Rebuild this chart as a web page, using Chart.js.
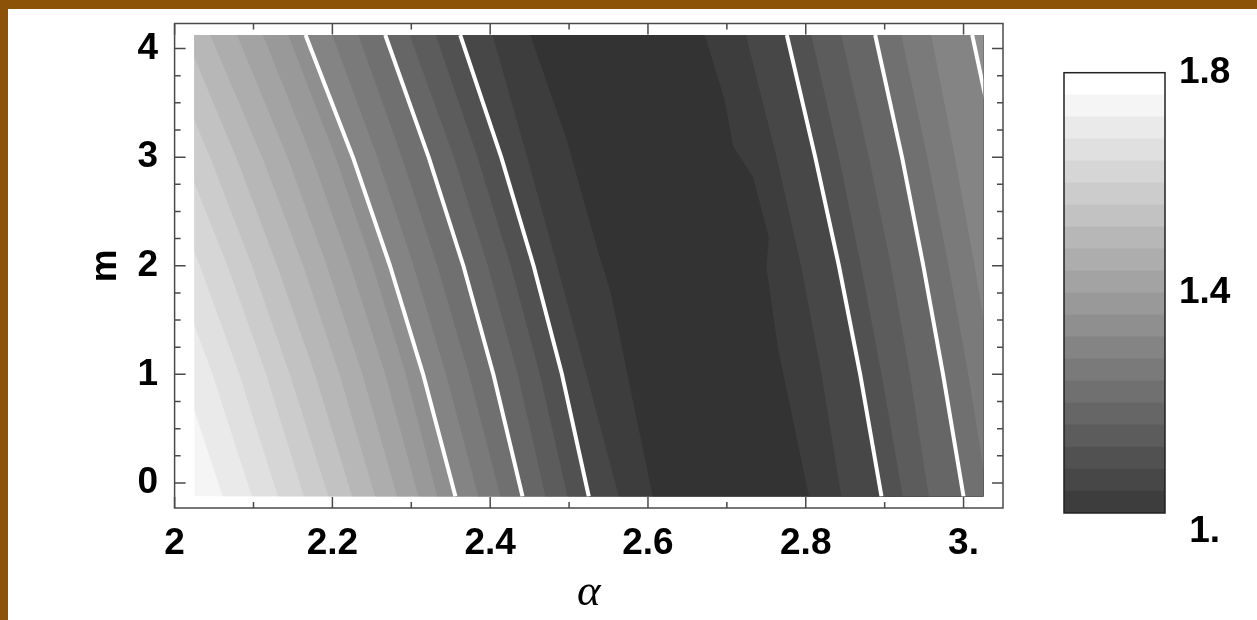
<!DOCTYPE html>
<html>
<head>
<meta charset="utf-8">
<title>Contour plot over alpha and m</title>
<script src="https://cdn.jsdelivr.net/npm/chart.js@4.4.1/dist/chart.umd.min.js"></script>
<style>
  html, body { margin: 0; padding: 0; background: #fff; }
  body { width: 1257px; height: 620px; position: relative; overflow: hidden; }
  canvas { position: absolute; top: 0; }
  .edge { position: absolute; background: #8c5208; }
</style>
</head>
<body>
<canvas id="contour" width="1257" height="620" style="left:0"></canvas>
<canvas id="legend" width="217" height="620" style="left:1040px"></canvas>
<div class="edge" style="left:0;top:0;width:1257px;height:9px"></div>
<div class="edge" style="left:0;top:0;width:8px;height:620px"></div>
<script>
// sampled region of the (alpha, m) plane
const alphaRange = [2.025, 3.025];
const mRange = [-0.125, 4.125];

const mRows = [-0.125, 1, 2, 3, 4.125];

// contours left of the minimum, light -> dark
const leftLevels = [1.72, 1.68, 1.64, 1.60, 1.56, 1.52, 1.48, 1.44, 1.40, 1.36, 1.32, 1.28, 1.24, 1.20, 1.16, 1.12, 1.08, 1.04];
const leftAlpha = [
    [2.061, 2.010, 1.959, 1.903, 1.834],
    [2.098, 2.048, 1.997, 1.941, 1.871],
    [2.131, 2.082, 2.032, 1.977, 1.908],
    [2.164, 2.116, 2.067, 2.012, 1.943],
    [2.195, 2.146, 2.098, 2.045, 1.979],
    [2.225, 2.178, 2.130, 2.078, 2.013],
    [2.254, 2.209, 2.163, 2.111, 2.045],
    [2.282, 2.238, 2.193, 2.143, 2.079],
    [2.309, 2.267, 2.223, 2.174, 2.112],
    [2.333, 2.293, 2.251, 2.204, 2.144],
    [2.356, 2.315, 2.273, 2.226, 2.166],
    [2.385, 2.344, 2.303, 2.257, 2.200],
    [2.413, 2.373, 2.333, 2.288, 2.233],
    [2.441, 2.404, 2.366, 2.322, 2.267],
    [2.470, 2.435, 2.397, 2.354, 2.298],
    [2.498, 2.463, 2.426, 2.384, 2.331],
    [2.525, 2.491, 2.455, 2.414, 2.362],
    [2.563, 2.522, 2.485, 2.447, 2.403]
];

// the 1.0 contour around the valley, read at its own m values
const valleyLevel = 1.00;
const valleyLeftM = [-0.125, 1, 1.75, 2.15, 3.16, 4.125];
const valleyLeftAlpha = [2.606, 2.574, 2.553, 2.536, 2.497, 2.451];
const valleyRightM = [-0.125, 1.23, 1.99, 2.15, 2.27, 2.82, 3.10, 3.53, 4.125];
const valleyRightAlpha = [2.804, 2.765, 2.750, 2.752, 2.753, 2.733, 2.708, 2.697, 2.672];

// contours right of the minimum, dark -> light
const rightLevels = [1.04, 1.08, 1.12, 1.16, 1.20, 1.24, 1.28, 1.32];
const rightAlpha = [
    [2.845, 2.820, 2.794, 2.763, 2.724],
    [2.896, 2.869, 2.842, 2.812, 2.776],
    [2.923, 2.896, 2.870, 2.842, 2.807],
    [2.956, 2.932, 2.908, 2.880, 2.845],
    [3.000, 2.974, 2.949, 2.922, 2.888],
    [3.031, 3.006, 2.981, 2.954, 2.921],
    [3.061, 3.037, 3.014, 2.989, 2.959],
    [3.134, 3.102, 3.073, 3.044, 3.011]
];

// levels drawn as white lines
const lineLevels = [1.08, 1.20, 1.32];

// colour bar
const legendBands = [1.00, 1.04, 1.08, 1.12, 1.16, 1.20, 1.24, 1.28, 1.32, 1.36, 1.40, 1.44, 1.48, 1.52, 1.56, 1.60, 1.64, 1.68, 1.72, 1.76];
const legendStep = 0.04;

const tickFont = {family: "'Liberation Sans', Arial, sans-serif", size: 37, weight: 'bold'};

function shade(v) {
    const g = Math.round(61 + (v - 1) * 255);
    return 'rgb(' + g + ',' + g + ',' + g + ')';
}

function toPoints(ms, alphas) {
    return ms.map((m, k) => ({x: alphas[k], y: m}));
}

// everything to the right of a contour, painted over the bands before it
function rightOf(pts) {
    const far = Math.max(alphaRange[1], ...pts.map(p => p.x)) + 0.05;
    return pts.concat([{x: far, y: pts[pts.length - 1].y}, {x: far, y: pts[0].y}]);
}

function buildDatasets() {
    const contours = [];
    leftLevels.forEach((lv, i) => contours.push({level: lv, band: lv - legendStep, pts: toPoints(mRows, leftAlpha[i])}));
    contours.push({level: valleyLevel, band: valleyLevel - legendStep, pts: toPoints(valleyLeftM, valleyLeftAlpha)});
    contours.push({level: valleyLevel, band: valleyLevel, pts: toPoints(valleyRightM, valleyRightAlpha)});
    rightLevels.forEach((lv, i) => contours.push({level: lv, band: lv, pts: toPoints(mRows, rightAlpha[i])}));

    const sets = [];
    sets.push({
        data: [
            {x: alphaRange[0], y: mRange[0]}, {x: alphaRange[1], y: mRange[0]},
            {x: alphaRange[1], y: mRange[1]}, {x: alphaRange[0], y: mRange[1]}
        ],
        backgroundColor: shade(leftLevels[0]),
        borderColor: 'transparent',
        fill: 'shape',
        order: 1000
    });
    contours.forEach((c, k) => {
        sets.push({
            data: rightOf(c.pts),
            backgroundColor: shade(c.band),
            borderColor: 'transparent',
            fill: 'shape',
            order: 900 - k
        });
    });
    contours.filter(c => lineLevels.includes(c.level)).forEach(c => {
        sets.push({
            data: c.pts,
            borderColor: '#ffffff',
            borderWidth: 4,
            borderJoinStyle: 'round',
            fill: false,
            order: 0
        });
    });
    return sets;
}

const dataClip = {
    id: 'dataClip',
    beforeDatasetsDraw(chart) {
        const {ctx, scales: {x, y}} = chart;
        const l = x.getPixelForValue(alphaRange[0]);
        const r = x.getPixelForValue(alphaRange[1]);
        const t = y.getPixelForValue(mRange[1]);
        const b = y.getPixelForValue(mRange[0]);
        ctx.save();
        ctx.beginPath();
        ctx.rect(l, t, r - l, b - t);
        ctx.clip();
    },
    afterDatasetsDraw(chart) {
        chart.ctx.restore();
    }
};

// box with inward ticks on all four sides
const frame = {
    id: 'frame',
    afterDraw(chart) {
        const {ctx, chartArea: a, scales: {x, y}} = chart;
        ctx.save();
        ctx.strokeStyle = '#4a4a4a';
        ctx.lineWidth = 1.5;
        ctx.strokeRect(a.left, a.top, a.right - a.left, a.bottom - a.top);
        ctx.beginPath();
        x.ticks.forEach(t => {
            const px = x.getPixelForValue(t.value);
            const len = t.label ? 11 : 6;
            ctx.moveTo(px, a.bottom); ctx.lineTo(px, a.bottom - len);
            ctx.moveTo(px, a.top); ctx.lineTo(px, a.top + len);
        });
        y.ticks.forEach(t => {
            const py = y.getPixelForValue(t.value);
            const len = t.label ? 11 : 6;
            ctx.moveTo(a.left, py); ctx.lineTo(a.left + len, py);
            ctx.moveTo(a.right, py); ctx.lineTo(a.right - len, py);
        });
        ctx.stroke();
        ctx.restore();
    }
};

new Chart(document.getElementById('contour'), {
    type: 'line',
    data: {datasets: buildDatasets()},
    options: {
        responsive: false,
        animation: false,
        events: [],
        layout: {padding: {left: 0, top: 23.5, right: 254, bottom: 0}},
        plugins: {legend: {display: false}, tooltip: {enabled: false}},
        elements: {point: {radius: 0}, line: {tension: 0}},
        scales: {
            x: {
                type: 'linear',
                min: 2,
                max: 3.05,
                grid: {display: false, drawTicks: false},
                border: {display: false},
                ticks: {
                    stepSize: 0.1,
                    includeBounds: false,
                    autoSkip: false,
                    maxRotation: 0,
                    padding: 13.5,
                    color: '#000',
                    font: tickFont,
                    callback: v => {
                        if (Math.abs(v * 5 - Math.round(v * 5)) > 1e-6) return '';
                        if (Math.abs(v - 2) < 1e-6) return '2';
                        if (Math.abs(v - 3) < 1e-6) return '3.';
                        return v.toFixed(1);
                    }
                },
                title: {
                    display: true,
                    text: 'α',
                    color: '#000',
                    font: {family: "'Liberation Serif', 'Times New Roman', serif", style: 'italic', size: 45},
                    padding: {top: 0, bottom: 0}
                },
                afterFit: s => { s.height = 112; s.paddingLeft = 0; s.paddingRight = 0; }
            },
            y: {
                type: 'linear',
                min: -0.231,
                max: 4.231,
                grid: {display: false, drawTicks: false},
                border: {display: false},
                ticks: {
                    stepSize: 0.25,
                    includeBounds: false,
                    autoSkip: false,
                    padding: 16.6,
                    color: '#000',
                    font: tickFont,
                    callback: v => Math.abs(v - Math.round(v)) < 1e-6 ? String(Math.round(v)) : ''
                },
                title: {
                    display: true,
                    text: 'm',
                    color: '#000',
                    font: tickFont,
                    padding: {top: 84, bottom: 0}
                },
                afterFit: s => { s.width = 174.6; s.paddingTop = 0; s.paddingBottom = 0; }
            }
        }
    },
    plugins: [dataClip, frame]
});

const barFrame = {
    id: 'barFrame',
    afterDraw(chart) {
        const {ctx, chartArea: a} = chart;
        ctx.save();
        ctx.strokeStyle = '#222';
        ctx.lineWidth = 1.5;
        ctx.strokeRect(a.left, a.top, a.right - a.left, a.bottom - a.top);
        ctx.restore();
    }
};

new Chart(document.getElementById('legend'), {
    type: 'bar',
    data: {
        labels: [''],
        datasets: legendBands.map(v => ({
            data: [[v, v + legendStep]],
            backgroundColor: shade(v),
            borderWidth: 0,
            grouped: false,
            barPercentage: 1,
            categoryPercentage: 1
        }))
    },
    options: {
        responsive: false,
        animation: false,
        events: [],
        layout: {padding: {left: 24, top: 72.7, right: 0, bottom: 107}},
        plugins: {legend: {display: false}, tooltip: {enabled: false}},
        scales: {
            x: {display: false},
            y: {
                position: 'right',
                min: 1,
                max: 1.8,
                grid: {display: false, drawTicks: false},
                border: {display: false},
                ticks: {
                    stepSize: 0.4,
                    includeBounds: false,
                    padding: 14,
                    crossAlign: 'center',
                    color: '#000',
                    font: Object.assign({}, tickFont, {lineHeight: 1}),
                    // the bottom label sits a little under the bar in the original
                    callback: v => Math.abs(v - 1) < 1e-6 ? ['', '1.'] : v.toFixed(1)
                },
                afterFit: s => { s.width = 92; s.paddingTop = 0; s.paddingBottom = 0; }
            }
        }
    },
    plugins: [barFrame]
});
</script>
</body>
</html>
